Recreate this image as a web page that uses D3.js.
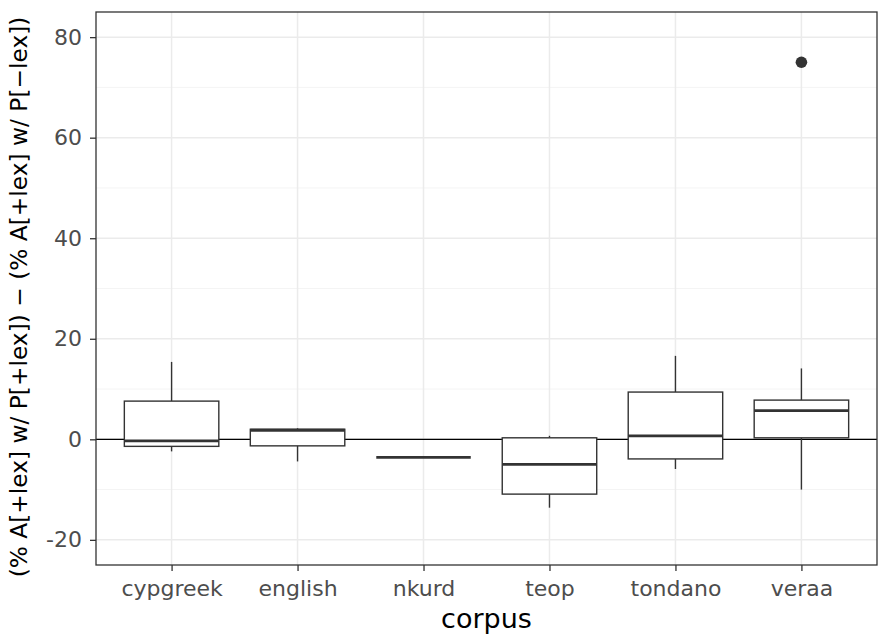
<!DOCTYPE html>
<html>
<head>
<meta charset="utf-8">
<script src="https://cdn.jsdelivr.net/npm/d3@7"></script>
<style>
  body { margin: 0; background: #fff; }
  text { font-family: "DejaVu Sans", sans-serif; }
</style>
</head>
<body>
<div id="chart"></div>
<script>
// data
const corpora = ["cypgreek", "english", "nkurd", "teop", "tondano", "veraa"];
const whiskerLow = [-2.4, -4.4, -3.6, -13.6, -5.9, -10.0];
const q1 = [-1.4, -1.3, -3.6, -10.9, -3.9, 0.3];
const medians = [-0.3, 1.8, -3.6, -5.0, 0.7, 5.7];
const q3 = [7.6, 2.0, -3.6, 0.3, 9.4, 7.8];
const whiskerHigh = [15.4, 2.2, -3.6, 0.7, 16.6, 14.1];
const outliers = [{ corpus: "veraa", value: 75 }];
const yTicks = [-20, 0, 20, 40, 60, 80];
const yMinor = [-10, 10, 30, 50, 70];

const W = 878, H = 635;
const margin = { top: 12, right: 1, bottom: 70, left: 96 };
const width = W - margin.left - margin.right,
  height = H - margin.top - margin.bottom;

const svg = d3.select("#chart").append("svg")
  .attr("width", W)
  .attr("height", H);
const g = svg.append("g")
  .attr("transform", `translate(${margin.left},${margin.top})`);

const boxes = corpora.map((c, i) => ({
  corpus: c, lo: whiskerLow[i], q1: q1[i], med: medians[i], q3: q3[i], hi: whiskerHigh[i]
}));

// ggplot style: discrete expand 0.6, continuous expand 5%
const x = d3.scalePoint()
  .domain(corpora)
  .range([0, width])
  .padding(0.6);
const step = x.step();
const yLo = -20, yHi = 80, pad = (yHi - yLo) * 0.05;
const y = d3.scaleLinear()
  .domain([yLo - pad, yHi + pad])
  .range([height, 0]);

// grid
g.append("g").selectAll("line")
  .data(yMinor)
  .join("line")
    .attr("x1", 0).attr("x2", width)
    .attr("y1", d => y(d)).attr("y2", d => y(d))
    .attr("stroke", "#f4f4f4").attr("stroke-width", 1);
g.append("g").selectAll("line")
  .data(yTicks)
  .join("line")
    .attr("x1", 0).attr("x2", width)
    .attr("y1", d => y(d)).attr("y2", d => y(d))
    .attr("stroke", "#ebebeb").attr("stroke-width", 1.5);
g.append("g").selectAll("line")
  .data(corpora)
  .join("line")
    .attr("x1", d => x(d)).attr("x2", d => x(d))
    .attr("y1", 0).attr("y2", height)
    .attr("stroke", "#ebebeb").attr("stroke-width", 1.5);

// reference line at 0
g.append("line")
  .attr("x1", 0).attr("x2", width)
  .attr("y1", y(0)).attr("y2", y(0))
  .attr("stroke", "#000").attr("stroke-width", 1.3);

// boxplots
const bw = step * 0.75;
const bx = g.append("g").selectAll("g")
  .data(boxes)
  .join("g");
bx.append("line")
  .attr("x1", d => x(d.corpus)).attr("x2", d => x(d.corpus))
  .attr("y1", d => y(d.hi)).attr("y2", d => y(d.q3))
  .attr("stroke", "#333").attr("stroke-width", 1.4);
bx.append("line")
  .attr("x1", d => x(d.corpus)).attr("x2", d => x(d.corpus))
  .attr("y1", d => y(d.q1)).attr("y2", d => y(d.lo))
  .attr("stroke", "#333").attr("stroke-width", 1.4);
bx.append("rect")
  .attr("x", d => x(d.corpus) - bw / 2)
  .attr("width", bw)
  .attr("y", d => y(d.q3))
  .attr("height", d => y(d.q1) - y(d.q3))
  .attr("fill", "#fff")
  .attr("stroke", "#333").attr("stroke-width", 1.4);
bx.append("line")
  .attr("x1", d => x(d.corpus) - bw / 2).attr("x2", d => x(d.corpus) + bw / 2)
  .attr("y1", d => y(d.med)).attr("y2", d => y(d.med))
  .attr("stroke", "#333").attr("stroke-width", 2.8);

g.append("g").selectAll("circle")
  .data(outliers)
  .join("circle")
    .attr("cx", d => x(d.corpus))
    .attr("cy", d => y(d.value))
    .attr("r", 5.8)
    .attr("fill", "#333");

// panel border
g.append("rect")
  .attr("width", width).attr("height", height)
  .attr("fill", "none")
  .attr("stroke", "#333").attr("stroke-width", 1.3);

// axes
const yAxis = g.append("g")
  .call(d3.axisLeft(y).tickValues(yTicks).tickFormat(d => String(d)).tickSize(6).tickPadding(8));
const xAxis = g.append("g")
  .attr("transform", `translate(0,${height})`)
  .call(d3.axisBottom(x).tickSize(6).tickPadding(9));
[yAxis, xAxis].forEach(a => {
  a.select(".domain").remove();
  a.selectAll(".tick line").attr("stroke", "#333").attr("stroke-width", 1.3);
  a.selectAll(".tick text")
    .attr("fill", "#4d4d4d")
    .style("font-size", "22px")
    .style("font-family", "DejaVu Sans");
});

// titles
svg.append("text")
  .attr("x", margin.left + width / 2)
  .attr("y", 628)
  .attr("text-anchor", "middle")
  .style("font-size", "27px")
  .text("corpus");
svg.append("text")
  .attr("transform", `translate(27,297) rotate(-90)`)
  .attr("text-anchor", "middle")
  .style("font-size", "23.3px")
  .text("(% A[+lex] w/ P[+lex]) \u2212 (% A[+lex] w/ P[\u2212lex])");
</script>
</body>
</html>
